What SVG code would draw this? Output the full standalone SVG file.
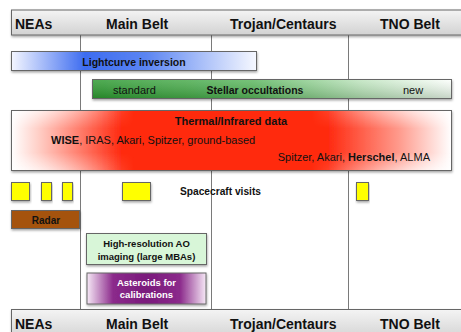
<svg xmlns="http://www.w3.org/2000/svg" width="461" height="332" viewBox="0 0 461 332">
  <defs>
    <linearGradient id="hdr" x1="0" y1="0" x2="0" y2="1">
      <stop offset="0" stop-color="#f4f4f4"/>
      <stop offset="1" stop-color="#d2d2d2"/>
    </linearGradient>
    <linearGradient id="blue" x1="0" y1="0" x2="1" y2="0">
      <stop offset="0" stop-color="#f4f6ff"/>
      <stop offset="0.3" stop-color="#3d6cf0"/>
      <stop offset="0.55" stop-color="#5b85f2"/>
      <stop offset="1" stop-color="#f6f8ff"/>
    </linearGradient>
    <linearGradient id="green" x1="0" y1="0" x2="1" y2="0">
      <stop offset="0" stop-color="#2f9a33"/>
      <stop offset="0.45" stop-color="#5fb862"/>
      <stop offset="0.75" stop-color="#bfe4bf"/>
      <stop offset="1" stop-color="#fbfefb"/>
    </linearGradient>
    <linearGradient id="greenShade" x1="0" y1="0" x2="0" y2="1">
      <stop offset="0" stop-color="#ffffff" stop-opacity="0.15"/>
      <stop offset="1" stop-color="#003300" stop-opacity="0.2"/>
    </linearGradient>
    <linearGradient id="red" x1="0" y1="0" x2="1" y2="0">
      <stop offset="0" stop-color="#ffffff"/>
      <stop offset="0.06" stop-color="#ffd0c8"/>
      <stop offset="0.25" stop-color="#ff2a10"/>
      <stop offset="0.72" stop-color="#ff2a10"/>
      <stop offset="0.88" stop-color="#ff9a8c"/>
      <stop offset="1" stop-color="#ffffff"/>
    </linearGradient>
    <linearGradient id="redEdge" x1="0" y1="0" x2="0" y2="1">
      <stop offset="0" stop-color="#ffffff" stop-opacity="0.85"/>
      <stop offset="0.3" stop-color="#ffffff" stop-opacity="0"/>
      <stop offset="0.7" stop-color="#ffffff" stop-opacity="0"/>
      <stop offset="1" stop-color="#ffffff" stop-opacity="0.85"/>
    </linearGradient>
    <linearGradient id="edgeMaskGrad" x1="0" y1="0" x2="1" y2="0">
      <stop offset="0" stop-color="#ffffff"/>
      <stop offset="0.28" stop-color="#000000"/>
      <stop offset="0.68" stop-color="#000000"/>
      <stop offset="1" stop-color="#ffffff"/>
    </linearGradient>
    <mask id="edgeMask" maskUnits="userSpaceOnUse" x="0" y="0" width="461" height="332">
      <rect x="11" y="110" width="441" height="61" fill="url(#edgeMaskGrad)"/>
    </mask>
    <linearGradient id="purple" x1="0" y1="0" x2="1" y2="0">
      <stop offset="0" stop-color="#f6e8f6"/>
      <stop offset="0.22" stop-color="#8b2a8b"/>
      <stop offset="0.5" stop-color="#7a1a7c"/>
      <stop offset="0.78" stop-color="#8b2a8b"/>
      <stop offset="1" stop-color="#f6e8f6"/>
    </linearGradient>
    <filter id="shadow" x="-10%" y="-20%" width="120%" height="160%">
      <feDropShadow dx="0.5" dy="1.5" stdDeviation="0.8" flood-color="#000" flood-opacity="0.35"/>
    </filter>
  </defs>
  <style>
    text { font-family: "Liberation Sans", Arial, sans-serif; fill: #111; }
    .hd { font-size: 14px; font-weight: bold; }
    .b { font-weight: bold; }
    .box { stroke: #666; stroke-width: 1; filter: url(#shadow); }
    .grid { stroke: #7a7a7a; stroke-width: 1; }
  </style>

  <rect width="461" height="332" fill="#ffffff"/>

  <!-- region dividers -->
  <g id="connectors">
    <line class="grid" x1="80.5" y1="35" x2="80.5" y2="309"/>
    <line class="grid" x1="211.5" y1="35" x2="211.5" y2="309"/>
    <line class="grid" x1="348.5" y1="35" x2="348.5" y2="309"/>
  </g>

  <!-- top header -->
  <g id="header-top">
    <rect class="box" x="11.5" y="10" width="460" height="25" fill="url(#hdr)"/>
    <text class="hd" x="15" y="29">NEAs</text>
    <text class="hd" x="106" y="29">Main Belt</text>
    <text class="hd" x="230" y="29">Trojan/Centaurs</text>
    <text class="hd" x="380" y="29">TNO Belt</text>
  </g>

  <g id="lightcurve">
    <rect class="box" x="11.5" y="51.5" width="245" height="19" fill="url(#blue)"/>
    <text class="b" x="134" y="66" font-size="10.5" text-anchor="middle">Lightcurve inversion</text>
  </g>

  <g id="occultations">
    <rect class="box" x="92.5" y="79.5" width="359" height="19" fill="url(#green)"/>
    <rect x="93" y="80" width="358" height="18" fill="url(#greenShade)"/>
    <text x="113" y="93.5" font-size="11">standard</text>
    <text class="b" x="255" y="93.5" font-size="10.5" text-anchor="middle">Stellar occultations</text>
    <text x="403" y="93.5" font-size="11">new</text>
  </g>

  <g id="thermal">
    <rect class="box" x="11.5" y="110.5" width="440" height="60" fill="url(#red)"/>
    <rect x="12" y="111" width="439" height="59" fill="url(#redEdge)" mask="url(#edgeMask)"/>
    <text class="b" x="231" y="125" font-size="11" text-anchor="middle">Thermal/Infrared data</text>
    <text x="51" y="144" font-size="11"><tspan font-weight="bold">WISE</tspan>, IRAS, Akari, Spitzer, ground-based</text>
    <text x="430" y="161" font-size="11" text-anchor="end">Spitzer, Akari, <tspan font-weight="bold">Herschel</tspan>, ALMA</text>
  </g>

  <g id="spacecraft">
    <rect class="box" x="11.5" y="182.5" width="18" height="18" fill="#ffff00" stroke="#555"/>
    <rect class="box" x="41.5" y="182.5" width="10" height="18" fill="#ffff00" stroke="#555"/>
    <rect class="box" x="62.5" y="182.5" width="10" height="18" fill="#ffff00" stroke="#555"/>
    <rect class="box" x="122.5" y="182.5" width="28" height="18" fill="#ffff00" stroke="#555"/>
    <rect class="box" x="356.5" y="182.5" width="12" height="18" fill="#ffff00" stroke="#555"/>
    <text class="b" x="180" y="195" font-size="10.2">Spacecraft visits</text>
  </g>

  <g id="radar">
    <rect class="box" x="11.5" y="210.5" width="68" height="18" fill="#a5520a" stroke="#5a3a1a"/>
    <text class="b" x="46" y="224" font-size="10" text-anchor="middle">Radar</text>
  </g>

  <g id="ao-imaging">
    <rect class="box" x="86.5" y="233.5" width="120" height="31" fill="#d8f6d8" stroke="#888"/>
    <text class="b" x="146.5" y="247" font-size="9.5" text-anchor="middle">High-resolution AO</text>
    <text class="b" x="146.5" y="259.5" font-size="9.5" text-anchor="middle">imaging (large MBAs)</text>
  </g>

  <g id="calibrations">
    <rect class="box" x="87" y="273" width="119" height="31" fill="url(#purple)" stroke="#000" stroke-width="2"/>
    <text class="b" x="146.5" y="285.5" font-size="9.5" text-anchor="middle" style="fill:#ffffff">Asteroids for</text>
    <text class="b" x="146.5" y="298" font-size="9.5" text-anchor="middle" style="fill:#ffffff">calibrations</text>
  </g>

  <!-- bottom header -->
  <g id="header-bottom">
    <rect class="box" x="11.5" y="309.5" width="460" height="30" fill="url(#hdr)"/>
    <text class="hd" x="15" y="329">NEAs</text>
    <text class="hd" x="106" y="329">Main Belt</text>
    <text class="hd" x="230" y="329">Trojan/Centaurs</text>
    <text class="hd" x="380" y="329">TNO Belt</text>
  </g>
</svg>
